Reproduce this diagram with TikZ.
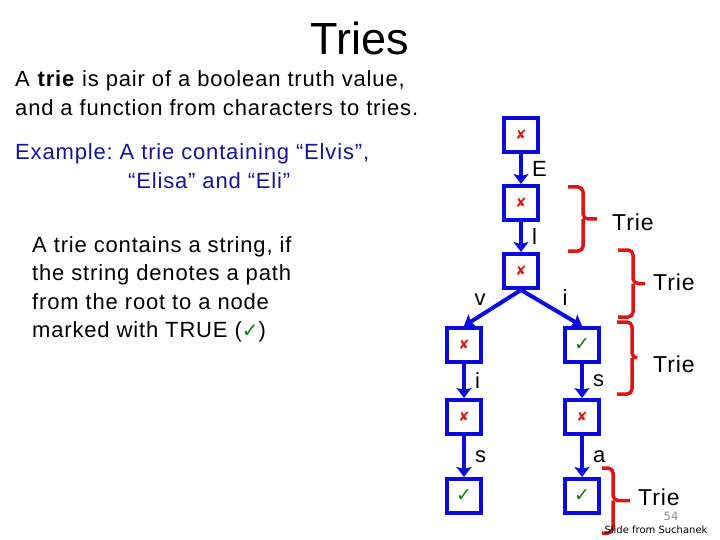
\documentclass[tikz,border=0pt]{standalone}
\usepackage{fontspec}
\setmainfont{Liberation Sans}
\newfontfamily\symfont{DejaVu Sans}
\newfontfamily\slidefont[LetterSpace=3.8]{Liberation Sans}
\newfontfamily\notefont{DejaVu Sans}
\usepackage{tikz}
\usetikzlibrary{arrows.meta}

\definecolor{boxblue}{RGB}{10,10,225}
\definecolor{bracered}{RGB}{225,20,20}
\definecolor{exblue}{RGB}{20,20,150}
\definecolor{okgreen}{RGB}{20,120,20}
\definecolor{nored}{RGB}{215,25,25}

\newcommand{\falsemark}{\textcolor{nored}{\symfont\fontsize{13}{13}\selectfont ✘}}
\newcommand{\truemark}{\textcolor{okgreen}{\symfont\fontsize{19}{19}\selectfont ✓}}

\tikzset{
    triebox/.style={draw=boxblue, line width=4pt, minimum size=34pt, inner sep=0pt},
    edge/.style={draw=boxblue, line width=4pt, -{Stealth[length=10pt,width=15pt,inset=2pt]}},
    elabel/.style={font=\slidefont\fontsize{22}{26}\selectfont, inner sep=1pt},
    bracket/.style={draw=bracered, line width=3.5pt, rounded corners=5pt},
    trielabel/.style={font=\slidefont\fontsize{23}{26}\selectfont, inner sep=0pt, anchor=west},
}

\begin{document}
\frenchspacing
\begin{tikzpicture}[x=1pt,y=-1pt]
    \useasboundingbox (0,0) rectangle (720,540);

    % Title
    \node[font=\fontsize{45}{48}\selectfont] (title) at (360,38) {Tries};

    % Definition
    \node[anchor=north west, align=left, inner sep=0pt,
        font=\slidefont\fontsize{22}{29}\selectfont] (def) at (15,70)
        {A \textbf{trie} is pair of a boolean truth value,\\
         and a function from characters to tries.};

    % Example
    \node[anchor=north west, align=left, inner sep=0pt, text=exblue,
        font=\slidefont\fontsize{22}{29}\selectfont] (example) at (15,143)
        {Example: A trie containing “Elvis”,\\
         \hspace*{113pt}“Elisa” and “Eli”};

    % Contains
    \node[anchor=north west, align=left, inner sep=0pt,
        font=\slidefont\fontsize{22}{28.5}\selectfont] (contains) at (32,236)
        {A trie contains a string, if\\
         the string denotes a path\\
         from the root to a node\\
         marked with TRUE (\textcolor{okgreen}{\symfont\fontsize{20}{20}\selectfont ✓})};

    % Trie nodes
    \node[triebox] (root)  at (521,135) {\falsemark};
    \node[triebox] (e)     at (521,203) {\falsemark};
    \node[triebox] (el)    at (521,271) {\falsemark};
    \node[triebox] (elv)   at (464,345) {\falsemark};
    \node[triebox] (eli)   at (582,345) {\truemark};
    \node[triebox] (elvi)  at (464,417) {\falsemark};
    \node[triebox] (elis)  at (582,417) {\falsemark};
    \node[triebox] (elvis) at (464,496) {\truemark};
    \node[triebox] (elisa) at (582,496) {\truemark};

    % Edges
    \draw[edge] (root) -- node[elabel, right=8pt] (lE) {E} (e);
    \draw[edge] (e) -- node[elabel, right=8pt] (ll) {l} (el);
    \draw[edge] (el.south) -- node[elabel, anchor=south east, xshift=-4pt] (lv) {v} (elv.north);
    \draw[edge] (el.south) -- node[elabel, anchor=south west, xshift=8pt] (li) {i} (eli.north);
    \draw[edge] (elv) -- node[elabel, right=8pt] (lvi) {i} (elvi);
    \draw[edge] (elvi) -- node[elabel, right=8pt] (lvs) {s} (elvis);
    \draw[edge] (eli) -- node[elabel, right=8pt] (lis) {s} (elis);
    \draw[edge] (elis) -- node[elabel, right=8pt] (lia) {a} (elisa);

    % Brackets
    \foreach \xa/\xb/\xc/\ya/\yb/\xl/\yl [count=\i] in {568/583/597/187/251/612/222,
        618/633/645/250/317/653/282, 617/632/637/322/394/653/364, 602/613/630/468/533/638/497} {
        \draw[bracket] (\xa,\ya) -| (\xb,{(\ya+\yb)/2}) -- (\xc,{(\ya+\yb)/2});
        \draw[bracket] (\xa,\yb) -| (\xb,{(\ya+\yb)/2});
        \node[trielabel] (trie\i) at (\xl,\yl) {Trie};
    }

    % Footer
    \node[font=\notefont\fontsize{11.5}{12}\selectfont, text=black!45] (page) at (671,516) {54};
    \node[font=\notefont\fontsize{10}{10}\selectfont] (credit) at (656,530) {Slide from Suchanek};

\end{tikzpicture}
\end{document}
